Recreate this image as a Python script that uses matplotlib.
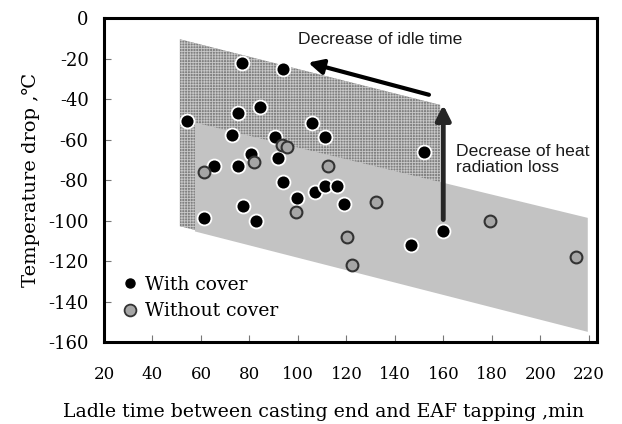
import matplotlib
matplotlib.use('Agg')
import matplotlib.pyplot as plt
from matplotlib.patches import Polygon
from matplotlib.lines import Line2D

# Ladle data
with_x = [76.8, 93.8, 84.5, 75.4, 54.1, 105.6, 72.7, 111.1, 90.5, 80.7, 152.1, 91.9,
          65.5, 75.4, 93.8, 107.0, 111.1, 116.1, 99.7, 119.0, 77.2, 61.4, 82.7, 146.7, 159.9]
with_y = [-22, -25, -44, -47, -51, -52, -58, -59, -59, -67, -66, -69,
          -73, -73, -81, -86, -83, -83, -89, -92, -93, -99, -100, -112, -105]

without_x = [81.9, 61.3, 112.2, 99.2, 132.2, 120.3, 122.3, 179.2, 214.6, 93.3, 95.3]
without_y = [-71, -76, -73, -96, -91, -108, -122, -100, -118, -62.6, -63.5]

# bands (x, y corners)
hatch_band = [(51.3, -10.5), (158.6, -42.9), (158.6, -135), (51.3, -102.8)]
gray_band = [(57.5, -51.6), (219.5, -98.7), (219.5, -155), (57.5, -105.4)]

x_ticks = list(range(20, 221, 20))
y_ticks = list(range(-160, 1, 20))

plt.rcParams['axes.unicode_minus'] = False
plt.rcParams['hatch.linewidth'] = 0.6
serif = ['DejaVu Serif', 'DejaVu Sans']

fig = plt.figure(figsize=(6.22, 4.24), dpi=100)
ax = fig.add_axes([0.1672, 0.1934, 0.7926, 0.7641])

ax.add_patch(Polygon(hatch_band, closed=True, facecolor='#808080', edgecolor='#c8c8c8',
                     hatch='++++++', linewidth=0, zorder=1))
ax.add_patch(Polygon(gray_band, closed=True, facecolor='#c3c3c3', edgecolor='none', zorder=2))

ax.plot(with_x, with_y, 'o', color='black', markersize=10, markeredgecolor='white',
        markeredgewidth=1.3, zorder=4)
ax.plot(without_x, without_y, 'o', color='#a6a6a6', markersize=8.5, markeredgecolor='#333333',
        markeredgewidth=1.5, zorder=5)

# arrows
ax.annotate('', xy=(104.2, -22), xytext=(154, -37.9),
            arrowprops=dict(arrowstyle='-|>', lw=3, color='black', mutation_scale=22,
                            shrinkA=0, shrinkB=0), zorder=6)
ax.annotate('', xy=(159.9, -42.9), xytext=(159.9, -99.5),
            arrowprops=dict(arrowstyle='-|>', lw=3.5, color='#262626', mutation_scale=22,
                            shrinkA=0, shrinkB=0), zorder=6)

ax.text(133.8, -10.8, 'Decrease of idle time', family='Liberation Sans', fontsize=12.6,
        ha='center', va='center', color='#1a1a1a')
ax.text(165.2, -69.8, 'Decrease of heat\nradiation loss', family='Liberation Sans', fontsize=12.6,
        ha='left', va='center', color='#1a1a1a', linespacing=1.05)

ax.set_xlim(20, 223.3)
ax.set_ylim(-160, 0)
ax.set_xticks(x_ticks)
ax.set_yticks(y_ticks)
ax.tick_params(direction='in', length=5, width=0.8, color='#777777')
ax.tick_params(axis='x', pad=17, labelsize=12)
ax.tick_params(axis='y', pad=11, labelsize=13)
for lab in ax.get_xticklabels() + ax.get_yticklabels():
    lab.set_family(serif)
for s in ax.spines.values():
    s.set_linewidth(2.2)

ax.set_xlabel('Ladle time between casting end and EAF tapping ,min', family=serif,
              fontsize=13.6)
ax.xaxis.set_label_coords(0.445, -0.188)
ax.set_ylabel('Temperature drop ,\u2103', family=serif, fontsize=14, labelpad=6)

handles = [Line2D([], [], marker='o', ls='none', color='black', markersize=6.5),
           Line2D([], [], marker='o', ls='none', color='#a6a6a6', markersize=8.5,
                  markeredgecolor='#333333', markeredgewidth=1.3)]
ax.legend(handles, ['With cover', 'Without cover'], loc='lower left', bbox_to_anchor=(0.008, 0.015),
          frameon=False, handlelength=0.6, handletextpad=0.45, labelspacing=0.45,
          prop={'family': serif, 'size': 13.5})

fig.savefig('out.png', dpi=100)
